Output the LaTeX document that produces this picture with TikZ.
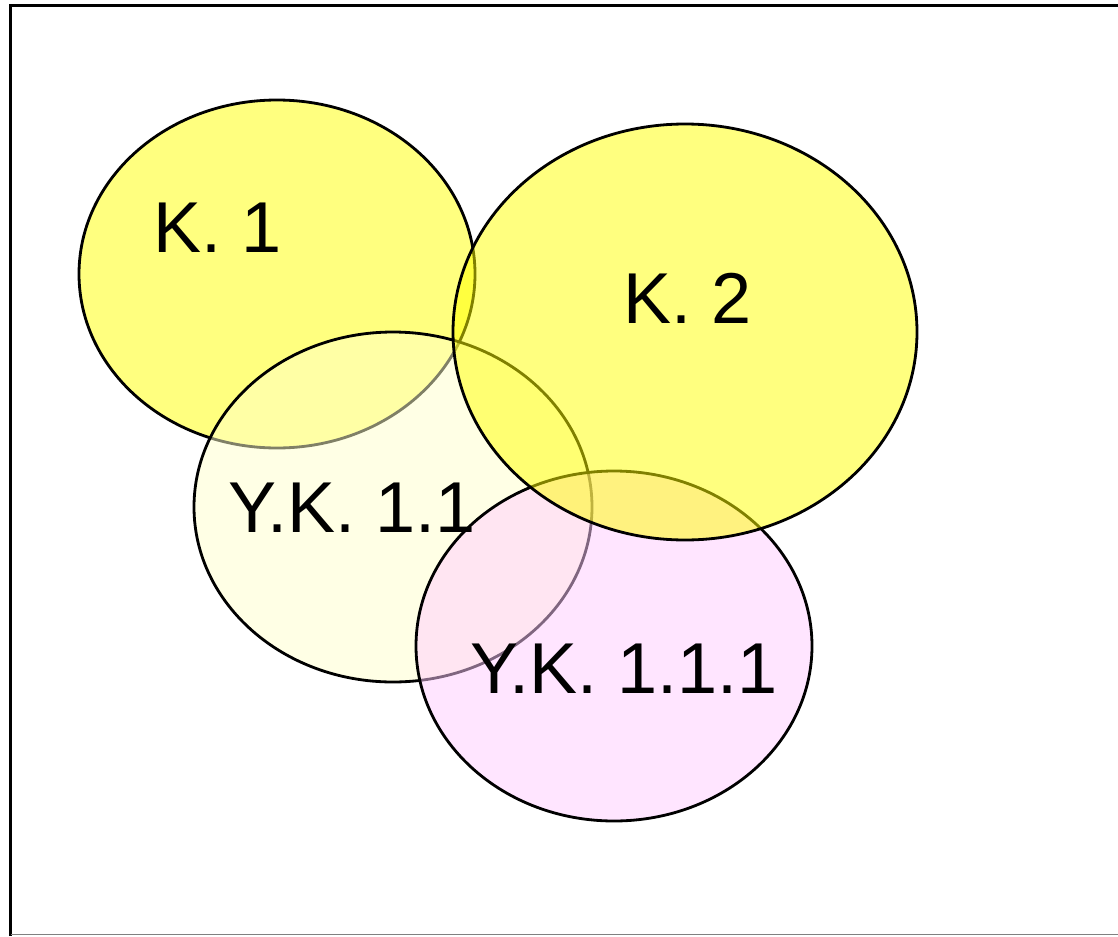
\documentclass[tikz,border=0pt]{standalone}
\usepackage{fontspec}
\setmainfont{Liberation Sans}
\usetikzlibrary{positioning}

\definecolor{setyellow}{RGB}{255,255,0}
\definecolor{setcream}{RGB}{255,255,204}
\definecolor{setpink}{RGB}{255,204,255}

\tikzset{
    setshape/.style={draw=black, line width=1.6pt, fill opacity=0.5},
    setlabel/.style={inner sep=0pt, font=\fontsize{41}{48}\selectfont}
}

\begin{document}
\begin{tikzpicture}[x=0.02cm, y=-0.02cm]
    \useasboundingbox (0,0) rectangle (1118,936);
    % Frame
    \draw[line width=1.7pt] (10.5,936) -- (10.5,5.5) -- (1118,5.5);
    \draw[gray, line width=0.6pt] (10.5,934.5) -- (1118,934.5);

    % Sets
    \draw[setshape, fill=setyellow] (277,274) ellipse [x radius=198, y radius=174];
    \draw[setshape, fill=setcream] (393,507) ellipse [x radius=199, y radius=175];
    \draw[setshape, fill=setpink] (614,646) ellipse [x radius=198, y radius=175];
    \draw[setshape, fill=setyellow] (685,332) ellipse [x radius=232, y radius=208];

    % Labels
    \node[setlabel] (k1) at (218,228) {K. 1};
    \node[setlabel] (k2) at (688,298) {K. 2};
    \node[setlabel] (yk11) at (352,508) {Y.K. 1.1};
    \node[setlabel] (yk111) at (624,669) {Y.K. 1.1.1};
\end{tikzpicture}
\end{document}
